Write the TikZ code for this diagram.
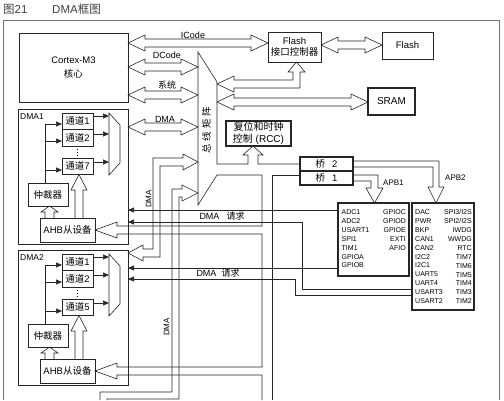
\documentclass[tikz,border=0pt]{standalone}
\usepackage{fontspec}
\setmainfont{Liberation Sans}
\newfontfamily\cjk{Noto Sans CJK SC}
\usetikzlibrary{arrows.meta,calc}

\newcommand{\zh}[1]{{\cjk #1}}
% hollow bus with two heads, from x=#1 to x=#2 at height #3
\newcommand{\dbus}[3]{\draw[bus] (#1,#3) -- (#1+17,#3-8) -- (#1+17,#3-4) -- (#2-17,#3-4) -- (#2-17,#3-8) -- (#2,#3) -- (#2-17,#3+8) -- (#2-17,#3+4) -- (#1+17,#3+4) -- (#1+17,#3+8) -- cycle;}

\tikzset{
  box/.style={draw=black!85, line width=0.7pt, inner sep=0pt, outer sep=0pt, font=\fontsize{9.5}{11.5}\selectfont},
  hbox/.style={box, line width=1.2pt},
  chbox/.style={box, minimum width=31pt, minimum height=16.5pt},
  bus/.style={draw=black!85, line width=0.6pt, line join=miter},
  sarr/.style={draw=black!85, line width=0.6pt, -{Triangle[length=6pt,width=5pt]}},
  lbl/.style={inner sep=0pt, font=\fontsize{9}{10.5}\selectfont},
  apbtxt/.style={inner sep=0pt, align=left, font=\fontsize{7}{8.9}\selectfont},
}

\begin{document}
\begin{tikzpicture}[x=1pt,y=1pt,yscale=-1]
    \useasboundingbox (0,0) rectangle (504,400);

    % Text Node: title
    \node[lbl, anchor=west, font=\fontsize{11.5}{13}\selectfont, text=black!75] (fig) at (3,9) {\zh{图}21};
    \node[lbl, anchor=west, font=\fontsize{11.5}{13}\selectfont, text=black!75] (title) at (52,9) {DMA\zh{框图}};
    %Shape: outer frame
    \draw[black!55, line width=0.8pt] (3,400) -- (3,20) -- (499,20) -- (499,400);

    % core, memories, RCC, bridges
    \node[box, minimum width=109pt, minimum height=69pt, align=center] (cortex) at (73.5,67.5) {Cortex-M3\\[3pt]\zh{核心}};
    \node[box, minimum width=53pt, minimum height=30pt, align=center] (fctl) at (294.5,47) {Flash\\\zh{接口控制器}};
    \node[box, minimum width=51pt, minimum height=27pt] (flash) at (407.5,45.5) {Flash};
    \node[hbox, minimum width=47pt, minimum height=27pt, font=\fontsize{10}{12}\selectfont] (sram) at (391.5,101.5) {SRAM};
    \node[hbox, minimum width=65pt, minimum height=25pt, align=center, font=\fontsize{10}{12}\selectfont] (rcc) at (258.5,133.5) {\zh{复位和时钟}\\\zh{控制} (RCC)};
    \node[hbox, minimum width=53pt, minimum height=14pt] (br2) at (326.5,164) {\zh{桥}\hspace{7pt}2};
    \node[hbox, minimum width=53pt, minimum height=14pt] (br1) at (326.5,178) {\zh{桥}\hspace{7pt}1};

    % APB peripherals
    \node[hbox, minimum width=71pt, minimum height=73pt] (apbA) at (373.5,239.5) {};
    \node[hbox, minimum width=62pt, minimum height=107pt] (apbB) at (443,256.5) {};
    \node[apbtxt, anchor=north west] (apbAl) at (341.5,209.5) {ADC1\\ADC2\\USART1\\SPI1\\TIM1\\GPIOA\\GPIOB};
    \node[apbtxt, anchor=north east, align=right] (apbAr) at (406,209.5) {GPIOC\\GPIOD\\GPIOE\\EXTI\\AFIO};
    \node[apbtxt, anchor=north west] (apbBl) at (415,209.5) {DAC\\PWR\\BKP\\CAN1\\CAN2\\I2C2\\I2C1\\UART5\\UART4\\USART3\\USART2};
    \node[apbtxt, anchor=north east, align=right] (apbBr) at (472,209.5) {SPI3/I2S\\SPI2/I2S\\IWDG\\WWDG\\RTC\\TIM7\\TIM6\\TIM5\\TIM4\\TIM3\\TIM2};

    % DMA controllers
    \foreach \n/\dy/\last in {1/0/7, 2/141/5}{
      \node[box, minimum width=110pt, minimum height=135pt] (dma\n) at (73,176.5+\dy) {};
      \node[lbl, anchor=west, font=\fontsize{8.5}{10}\selectfont] (dmaname\n) at (20,116.5+\dy) {DMA\n};
      \node[chbox] (ch\n-1) at (77.5,121.25+\dy) {\zh{通道}1};
      \node[chbox] (ch\n-2) at (77.5,137.75+\dy) {\zh{通道}2};
      \node[chbox] (ch\n-x) at (77.5,166.25+\dy) {\zh{通道}\last};
      \draw[dotted, line width=0.8pt] (77.5,149+\dy) -- (77.5,156+\dy);
      \node[box, minimum width=40pt, minimum height=23pt] (arb\n) at (48,194.5+\dy) {\zh{仲裁器}};
      \node[box, minimum width=55pt, minimum height=24pt] (ahb\n) at (67.5,230+\dy) {AHB\zh{从设备}};
      %Shape: multiplexer
      \draw[bus] (109,113+\dy) coordinate (mux\n) -- (120,125+\dy) -- (120,163+\dy) -- (109,175+\dy) -- cycle;
      \foreach \c/\y in {1/116, 2/134, x/162}
        \draw[sarr] (ch\n-\c.east |- 0,\y+\dy) -- (mux\n |- 0,\y+\dy);
      % arbiter to channels
      \draw[bus] (arb\n.north -| 45,0) -- (45,124+\dy);
      \foreach \c/\y in {1/124, 2/141, x/170}
        \draw[sarr] (45,\y+\dy) -- (ch\n-\c.west |- 0,\y+\dy);
      % AHB slave to arbiter and channel
      \draw[bus] (45,218+\dy) -- (45,212+\dy) -- (41,212+\dy) -- (arb\n.south -| 49.5,0) -- (58,212+\dy) -- (54,212+\dy) -- (54,218+\dy);
      \draw[bus] (75,218+\dy) -- (75,190+\dy) -- (71,190+\dy) -- (ch\n-x.south -| 79,0) -- (87,190+\dy) -- (83,190+\dy) -- (83,218+\dy);
    }

    % buses from the core and DMA1
    \dbus{128}{268}{43}
    \dbus{128}{198}{67}
    \dbus{128}{198}{95}
    \dbus{128}{198}{127}
    \dbus{321}{382}{45}
    \dbus{217}{368}{102}
    % bus matrix to Flash interface
    \draw[bus] (fctl.south -| 296.5,0) -- (305,72) -- (300,72) -- (300,88) -- (234,88) -- (234,92) -- (217,84) -- (234,76) -- (234,80) -- (293,80) -- (293,72) -- (288,72) -- cycle;
    %Shape: bus matrix, AHB to RCC, bridges and AHB slaves
    \draw[bus] (217,82) -- (217,164) -- (248,164) -- (248,155) -- (243,155) -- (rcc.south -| 253,0) -- (263,155) -- (258,155) -- (258,164) -- (br2.west);
    \draw[bus] (217,82) -- (198,52) -- (198,205) -- (217,175) -- (262,175) -- (262,226) -- (117,226) -- (117,222) -- (ahb1.east) -- (117,238) -- (117,234) -- (262,234) -- (262,367) -- (117,367) -- (117,363) -- (ahb2.east) -- (117,379) -- (117,375) -- (262,375) -- (262,400);
    \draw[bus] (br1.west |- 0,175) -- (272,175) -- (272,400);
    % DMA2 bus
    \draw[bus] (dma2.east |- 0,253) -- (143,245) -- (143,249) -- (153,249) -- (153,158) -- (183,158) -- (183,154) -- (198,162) -- (183,170) -- (183,166) -- (160,166) -- (160,257) -- (143,257) -- (143,261) -- cycle;
    % DMA bus from below
    \draw[bus] (100,400) -- (100,392) -- (172,392) -- (172,189) -- (182,189) -- (182,185) -- (198,193) -- (182,201) -- (182,197) -- (179,197) -- (179,399) -- (107,399) -- (107,400);
    % APB buses
    \draw[bus] (br1.east |- 0,175) -- (378,175) -- (378,188) -- (383,188) -- (apbA.north -| 374.5,0) -- (366,188) -- (371,188) -- (371,181) -- (br1.east |- 0,181);
    \draw[bus] (br2.east |- 0,161) -- (439,161) -- (439,187) -- (444,187) -- (apbB.north -| 436,0) -- (428,187) -- (433,187) -- (433,167) -- (br2.east |- 0,167);

    % DMA requests
    \draw[sarr] (apbA.west |- 0,210) -- (dma1.east |- 0,210);
    \draw[sarr] (apbB.west |- 0,289) -- (302,289) -- (302,222) -- (dma1.east |- 0,222);
    \draw[sarr] (apbA.west |- 0,268) -- (dma2.east |- 0,268);
    \draw[sarr] (apbB.west |- 0,295) -- (295,295) -- (295,279) -- (dma2.east |- 0,279);

    % Text Node: bus labels
    \node[lbl] (icode) at (193,35) {ICode};
    \node[lbl] (dcode) at (167,55.5) {DCode};
    \node[lbl] (sys) at (167,85) {\zh{系统}};
    \node[lbl] (dmabus1) at (165,119.5) {DMA};
    \node[lbl, rotate=90, font=\fontsize{8}{9}\selectfont] (dmabus2) at (148.5,199) {DMA};
    \node[lbl, rotate=90, font=\fontsize{8}{9}\selectfont] (dmabus3) at (166.5,327) {DMA};
    \node[lbl, rotate=90, font=\fontsize{9.5}{10}\selectfont] (matrix) at (206.5,130) {\zh{总\hspace{3pt}线\hspace{3pt}矩\hspace{3pt}阵}};
    \node[lbl] (req1) at (222,216) {DMA\hspace{7pt}\zh{请求}};
    \node[lbl] (req2) at (218,273.5) {DMA\hspace{5pt}\zh{请求}};
    \node[lbl, anchor=west, font=\fontsize{8}{9}\selectfont] (apb1) at (383,182.5) {APB1};
    \node[lbl, anchor=west, font=\fontsize{8}{9}\selectfont] (apb2) at (445,177.5) {APB2};

\end{tikzpicture}
\end{document}
